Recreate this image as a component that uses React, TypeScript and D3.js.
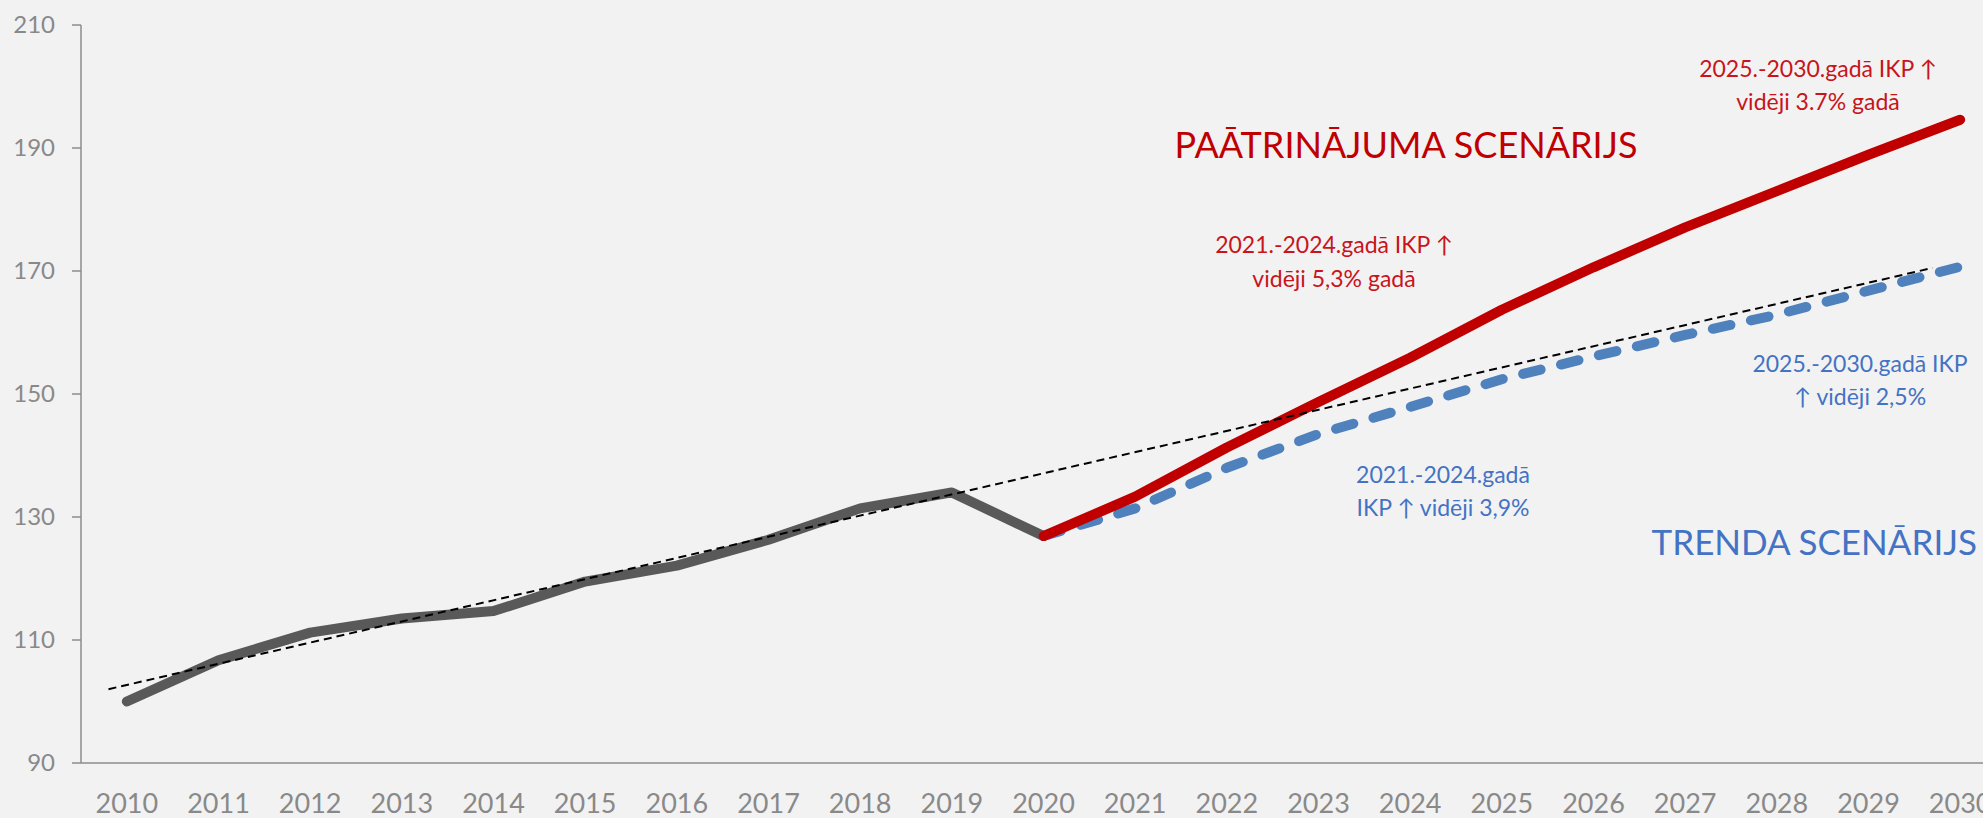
import React from "react";
import * as d3 from "d3";

const years = [2010, 2011, 2012, 2013, 2014, 2015, 2016, 2017, 2018, 2019, 2020, 2021, 2022, 2023, 2024, 2025, 2026, 2027, 2028, 2029, 2030];
const histYears = [2010, 2011, 2012, 2013, 2014, 2015, 2016, 2017, 2018, 2019, 2020];
const histValues = [100, 106.7, 111.2, 113.5, 114.7, 119.5, 122.1, 126.3, 131.4, 134.0, 126.9];
const scenYears = [2020, 2021, 2022, 2023, 2024, 2025, 2026, 2027, 2028, 2029, 2030];
const acceleratedValues = [126.9, 133.3, 141.3, 148.7, 155.9, 163.7, 170.6, 177.1, 183.0, 188.9, 194.6];
const trendValues = [126.9, 131.4, 138.0, 143.5, 147.9, 152.4, 156.1, 159.6, 162.9, 166.8, 170.7];
const trendlineYears = [2009.8, 2029.7];
const trendlineValues = [102.0, 170.5];
const yTicks = [90, 110, 130, 150, 170, 190, 210];

const W = 1983;
const H = 818;
const FONT = "Lato, 'Open Sans', sans-serif";

export default function App() {
  const x = d3.scaleLinear().domain([2009.5, 2030.5]).range([81, 2006]);
  const y = d3.scaleLinear().domain([90, 210]).range([763, 25]);
  const line = d3
    .line<[number, number]>()
    .x((d) => x(d[0]))
    .y((d) => y(d[1]));

  const hist = line(histYears.map((yr, i) => [yr, histValues[i]]))!;
  const acc = line(scenYears.map((yr, i) => [yr, acceleratedValues[i]]))!;
  const trend = line(scenYears.map((yr, i) => [yr, trendValues[i]]))!;
  const tl = line(trendlineYears.map((yr, i) => [yr, trendlineValues[i]]))!;

  const axisColor = "#8C8C8C";
  const labelColor = "#898989";
  const red = "#C00000";
  const redText = "#C8141A";
  const blueText = "#4472C4";
  const blueLine = "#4F81BD";

  return (
    <div style={{ position: "absolute", left: 0, top: 0 }}>
      <svg width={W} height={H} style={{ display: "block" }}>
        <rect x={0} y={0} width={W} height={H} fill="#F2F2F2" />
        {/* axes */}
        <line x1={x(2009.5)} x2={W} y1={y(90)} y2={y(90)} stroke={axisColor} strokeWidth={1.5} />
        <line x1={x(2009.5)} x2={x(2009.5)} y1={y(210)} y2={y(90)} stroke={axisColor} strokeWidth={1.5} />
        {yTicks.map((t) => (
          <g key={t}>
            <line x1={x(2009.5) - 9} x2={x(2009.5)} y1={y(t)} y2={y(t)} stroke={axisColor} strokeWidth={1.5} />
            <text
              x={55}
              y={y(t)}
              dy="0.35em"
              textAnchor="end"
              fontFamily={FONT}
              fontSize={24}
              fill={labelColor}
            >
              {t}
            </text>
          </g>
        ))}
        {years.map((yr) => (
          <text
            key={yr}
            x={x(yr)}
            y={813}
            textAnchor="middle"
            fontFamily={FONT}
            fontSize={27}
            fill={labelColor}
          >
            {yr}
          </text>
        ))}
        {/* series */}
        <path d={hist} fill="none" stroke="#595959" strokeWidth={10} strokeLinejoin="round" strokeLinecap="round" />
        <path
          d={trend}
          fill="none"
          stroke={blueLine}
          strokeWidth={10}
          strokeDasharray="18 21"
          strokeLinejoin="round"
          strokeLinecap="round"
        />
        <path d={acc} fill="none" stroke={red} strokeWidth={10} strokeLinejoin="round" strokeLinecap="round" />
        <path d={tl} fill="none" stroke="#000" strokeWidth={2} strokeDasharray="8 5" />
        {/* annotations */}
        <text x={1406} y={158} textAnchor="middle" fontFamily={FONT} fontSize={36} fill={red}>
          PAĀTRINĀJUMA SCENĀRIJS
        </text>
        <text x={1977} y={555} textAnchor="end" fontFamily={FONT} fontSize={35} fill={blueText}>
          TRENDA SCENĀRIJS
        </text>
        <text textAnchor="middle" fontFamily={FONT} fontSize={23} fill={redText}>
          <tspan x={1818} y={77}>2025.-2030.gadā IKP ↑</tspan>
          <tspan x={1818} y={110}>vidēji 3.7% gadā</tspan>
        </text>
        <text textAnchor="middle" fontFamily={FONT} fontSize={23} fill={redText}>
          <tspan x={1334} y={253}>2021.-2024.gadā IKP ↑</tspan>
          <tspan x={1334} y={287}>vidēji 5,3% gadā</tspan>
        </text>
        <text textAnchor="middle" fontFamily={FONT} fontSize={23} fill={blueText}>
          <tspan x={1860} y={372}>2025.-2030.gadā IKP</tspan>
          <tspan x={1860} y={405}>↑ vidēji 2,5%</tspan>
        </text>
        <text textAnchor="middle" fontFamily={FONT} fontSize={23} fill={blueText}>
          <tspan x={1443} y={483}>2021.-2024.gadā</tspan>
          <tspan x={1443} y={516}>IKP ↑ vidēji 3,9%</tspan>
        </text>
      </svg>
    </div>
  );
}
